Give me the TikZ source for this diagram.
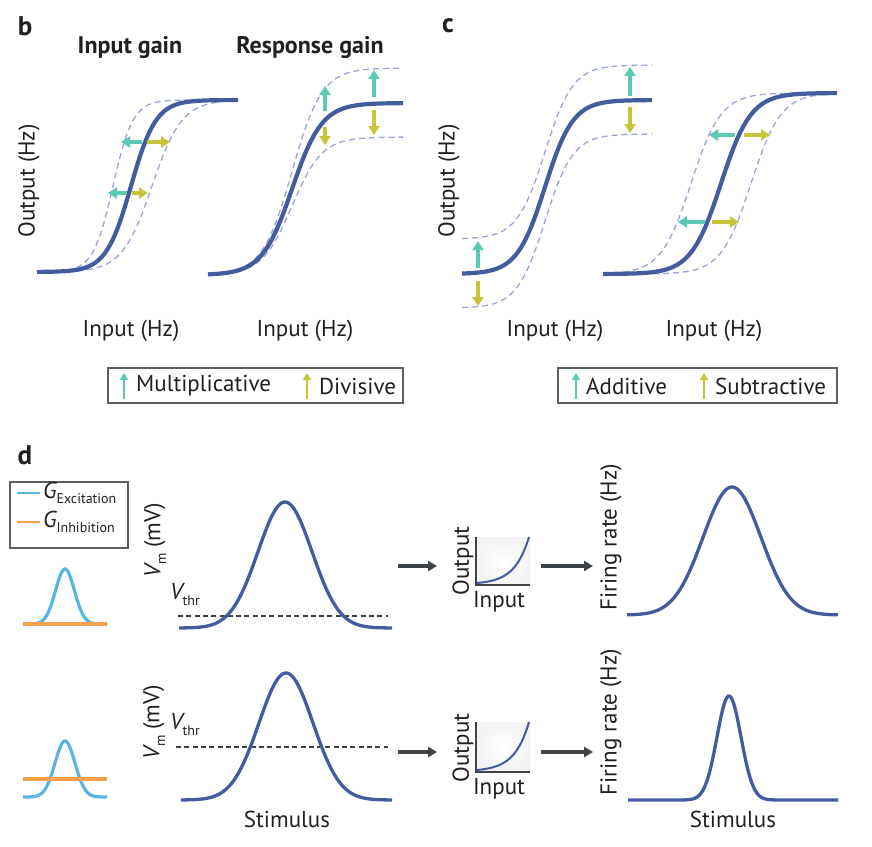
\documentclass[tikz,border=0pt]{standalone}
\usepackage{fontspec}
\setmainfont{PT Sans}
\usetikzlibrary{arrows.meta}
\definecolor{cblue}{HTML}{445B9E}
\definecolor{dlav}{HTML}{9AA3DA}
\definecolor{tealc}{HTML}{5BC9B3}
\definecolor{yelc}{HTML}{C6C53A}
\definecolor{gblue}{HTML}{5AB4E2}
\definecolor{gorange}{HTML}{F5A04F}
\definecolor{darkar}{HTML}{3D4347}
\definecolor{txt}{HTML}{231F20}
\newcommand{\lowsub}[1]{\raisebox{-0.5ex}{\fontsize{14}{14}\selectfont #1}}
\tikzset{
  sol/.style={line width=4.2pt, cblue},
  dsh/.style={line width=1.3pt, dlav, dash pattern=on 6pt off 4pt},
  tarr/.style={line width=3.3pt, tealc, -{Triangle[length=9pt,width=11pt]}},
  yarr/.style={line width=3.3pt, yelc, -{Triangle[length=9pt,width=11pt]}},
  larrT/.style={line width=2.6pt, tealc, -{Triangle[length=7pt,width=8pt]}},
  larrY/.style={line width=2.6pt, yelc, -{Triangle[length=7pt,width=8pt]}},
  darr/.style={line width=3.3pt, darkar, -{Triangle[length=9pt,width=10pt]}},
  lbl/.style={font=\fontsize{23}{23}\selectfont, text=txt, inner sep=0pt},
  ttl/.style={font=\fontsize{24}{24}\selectfont\bfseries, text=txt, inner sep=0pt},
  plet/.style={font=\fontsize{27}{27}\selectfont\bfseries, text=txt, inner sep=0pt},
  gcur/.style={line width=3.3pt, cblue},
  thr/.style={line width=1.1pt, darkar, dash pattern=on 5pt off 3.3pt},
  lbox/.style={line width=1.1pt, darkar!85},
}
\begin{document}
\begin{tikzpicture}[x=1pt,y=-1pt,
  declare function={sig(\z)=1/(1+exp(-max(-9,min(9,\z)))); gau(\z)=exp(-min(30,0.5*\z*\z));}]
\useasboundingbox (0,0) rectangle (872,846);

% ---------- panel b ----------
\node[plet] (lb) at (25,26) {b};
\node[ttl] (tig) at (130,48) {Input gain};
\node[ttl] (trg) at (310,48) {Response gain};
\node[lbl, rotate=90] (oyb) at (29,181) {Output (Hz)};

% input gain
\draw[dsh] plot[domain=37:238, samples=120, smooth] (\x, {272-172*sig((\x-113)/10)});
\draw[dsh] plot[domain=37:238, samples=120, smooth] (\x, {272-172*sig((\x-152)/15)});
\draw[sol] plot[domain=37:238, samples=120, smooth] (\x, {272-172*sig((\x-131)/12.5)});
\coordinate (a1s) at (142,142); \coordinate (a1e) at (121,142);
\coordinate (a2s) at (147,142); \coordinate (a2e) at (170,142);
\coordinate (a3s) at (127,193); \coordinate (a3e) at (108,193);
\coordinate (a4s) at (132,193); \coordinate (a4e) at (148,193);
\draw[tarr] (a1s) -- (a1e); \draw[yarr] (a2s) -- (a2e);
\draw[tarr] (a3s) -- (a3e); \draw[yarr] (a4s) -- (a4e);
\node[lbl] (xb1) at (131,331) {Input (Hz)};

% response gain
\draw[dsh] plot[domain=208:403, samples=120, smooth] (\x, {275-207*sig((\x-292)/15)});
\draw[dsh] plot[domain=208:403, samples=120, smooth] (\x, {275-138*sig((\x-292)/15)});
\draw[sol] plot[domain=208:403, samples=120, smooth] (\x, {275-172*sig((\x-292)/15)});
\coordinate (r1s) at (325,111); \coordinate (r1e) at (325,86);
\coordinate (r2s) at (325,127); \coordinate (r2e) at (325,145);
\coordinate (r3s) at (374,97); \coordinate (r3e) at (374,70);
\coordinate (r4s) at (374,110); \coordinate (r4e) at (374,135);
\draw[tarr] (r1s) -- (r1e); \draw[yarr] (r2s) -- (r2e);
\draw[tarr] (r3s) -- (r3e); \draw[yarr] (r4s) -- (r4e);
\node[lbl] (xb2) at (305,331) {Input (Hz)};

% legend b
\draw[lbox] (108,368) rectangle (403,403);
\coordinate (lb1s) at (124,399); \coordinate (lb1e) at (124,373);
\draw[larrT] (lb1s) -- (lb1e);
\node[lbl, anchor=west] (lmul) at (136,386) {Multiplicative};
\coordinate (lb2s) at (307,399); \coordinate (lb2e) at (307,373);
\draw[larrY] (lb2s) -- (lb2e);
\node[lbl, anchor=west] (ldiv) at (319,386) {Divisive};

% ---------- panel c ----------
\node[plet] (lc) at (448,26) {c};
\node[lbl, rotate=90] (oyc) at (449,181) {Output (Hz)};

\draw[dsh] plot[domain=462:652, samples=120, smooth] (\x, {239-174*sig((\x-545)/14)});
\draw[dsh] plot[domain=462:652, samples=120, smooth] (\x, {308-174*sig((\x-545)/14)});
\draw[sol] plot[domain=462:652, samples=120, smooth] (\x, {274-174*sig((\x-545)/14)});
\coordinate (c1s) at (478,268); \coordinate (c1e) at (478,241);
\coordinate (c2s) at (478,281); \coordinate (c2e) at (478,306);
\coordinate (c3s) at (630,96); \coordinate (c3e) at (630,67);
\coordinate (c4s) at (630,107); \coordinate (c4e) at (630,133);
\draw[tarr] (c1s) -- (c1e); \draw[yarr] (c2s) -- (c2e);
\draw[tarr] (c3s) -- (c3e); \draw[yarr] (c4s) -- (c4e);
\node[lbl] (xc1) at (555,331) {Input (Hz)};

\draw[dsh] plot[domain=603:837, samples=120, smooth] (\x, {274-181*sig((\x-691)/15)});
\draw[dsh] plot[domain=603:837, samples=120, smooth] (\x, {274-181*sig((\x-751)/15)});
\draw[sol] plot[domain=603:837, samples=120, smooth] (\x, {274-181*sig((\x-721)/15)});
\coordinate (s1s) at (705,222); \coordinate (s1e) at (678,222);
\coordinate (s2s) at (712,222); \coordinate (s2e) at (739,222);
\coordinate (s3s) at (735,135); \coordinate (s3e) at (709,135);
\coordinate (s4s) at (744,135); \coordinate (s4e) at (770,135);
\draw[tarr] (s1s) -- (s1e); \draw[yarr] (s2s) -- (s2e);
\draw[tarr] (s3s) -- (s3e); \draw[yarr] (s4s) -- (s4e);
\node[lbl] (xc2) at (714,331) {Input (Hz)};

% legend c
\draw[lbox] (558,368) rectangle (837,403);
\coordinate (lc1s) at (576,399); \coordinate (lc1e) at (576,373);
\draw[larrT] (lc1s) -- (lc1e);
\node[lbl, anchor=west] (ladd) at (586,386) {Additive};
\coordinate (lc2s) at (704,399); \coordinate (lc2e) at (704,373);
\draw[larrY] (lc2s) -- (lc2e);
\node[lbl, anchor=west] (lsub) at (715,386) {Subtractive};

% ---------- panel d ----------
\node[plet] (ld) at (25,455) {d};
\draw[lbox] (10,482) rectangle (128,548);
\draw[line width=2.8pt, gblue] (17,493) -- (40,493);
\draw[line width=2.8pt, gorange] (17,522) -- (40,522);
\node[lbl, anchor=west] (gex) at (43,493) {\fontsize{23}{23}\selectfont\itshape G\upshape\lowsub{Excitation}};
\node[lbl, anchor=west] (gin) at (43,522) {\fontsize{23}{23}\selectfont\itshape G\upshape\lowsub{Inhibition}};

% small conductance plots
\draw[line width=3.2pt, gblue] plot[domain=23:107, samples=80, smooth] (\x, {624-55*gau((\x-65)/9.5)});
\draw[line width=3.2pt, gorange] (23,624) -- (107,624);
\draw[line width=3.2pt, gblue] plot[domain=23:107, samples=80, smooth] (\x, {797-56*gau((\x-65)/10)});
\draw[line width=3.2pt, gorange] (23,779) -- (107,779);

% Vm plots
\node[lbl, rotate=90] (vm1) at (155,540) {\itshape V\upshape\lowsub{m} (mV)};
\node[lbl, anchor=south west] (vt1) at (170,606) {\itshape V\upshape\lowsub{thr}};
\draw[thr] (178,616) -- (388,616);
\draw[gcur] plot[domain=179:392, samples=120, smooth] (\x, {628-126*gau((\x-285)/27)});

\node[lbl, rotate=90] (vm2) at (154,722) {\itshape V\upshape\lowsub{m} (mV)};
\node[lbl, anchor=south west] (vt2) at (170,736) {\itshape V\upshape\lowsub{thr}};
\draw[thr] (176,747) -- (388,747);
\draw[gcur] plot[domain=181:392, samples=120, smooth] (\x, {800-127*gau((\x-286)/27)});
\node[lbl] (st1) at (287,819) {Stimulus};

% arrows
\coordinate (d1s) at (398,566); \coordinate (d1e) at (437,566);
\coordinate (d2s) at (541,566); \coordinate (d2e) at (593,566);
\coordinate (d3s) at (398,752); \coordinate (d3e) at (437,752);
\coordinate (d4s) at (541,752); \coordinate (d4e) at (593,752);
\draw[darr] (d1s) -- (d1e); \draw[darr] (d2s) -- (d2e);
\draw[darr] (d3s) -- (d3e); \draw[darr] (d4s) -- (d4e);

% insets
\foreach \yb/\yt/\yo/\yi in {585/537/561/602, 772/722/748/789}{
  \shade[inner color=white, outer color=black!10] (477,\yt) rectangle (530,\yb);
  \fill[white, opacity=0.55] (477,\yt) rectangle (530,\yb);
  \draw[line width=1.1pt, darkar] (476,\yt) -- (476,\yb) -- (530,\yb);
  \draw[line width=2pt, cblue] plot[domain=477:529, samples=50, smooth] (\x, {\yb-2-(\yb-\yt-2)*(exp(3.6*(\x-477)/52)-1)/(exp(3.6)-1)});
  \node[lbl, rotate=90] at (463,\yo) {Output};
  \node[lbl] at (499,\yi) {Input};
}

% firing rate plots
\node[lbl, rotate=90] (fr1) at (611,537) {Firing rate (Hz)};
\draw[gcur] plot[domain=627:838, samples=120, smooth] (\x, {615-128*gau((\x-732)/29)});
\node[lbl, rotate=90] (fr2) at (611,722) {Firing rate (Hz)};
\draw[gcur] plot[domain=628:838, samples=160, smooth] (\x, {800-104*gau((\x-729)/12)});
\node[lbl] (st2) at (733,819) {Stimulus};
\end{tikzpicture}
\end{document}
